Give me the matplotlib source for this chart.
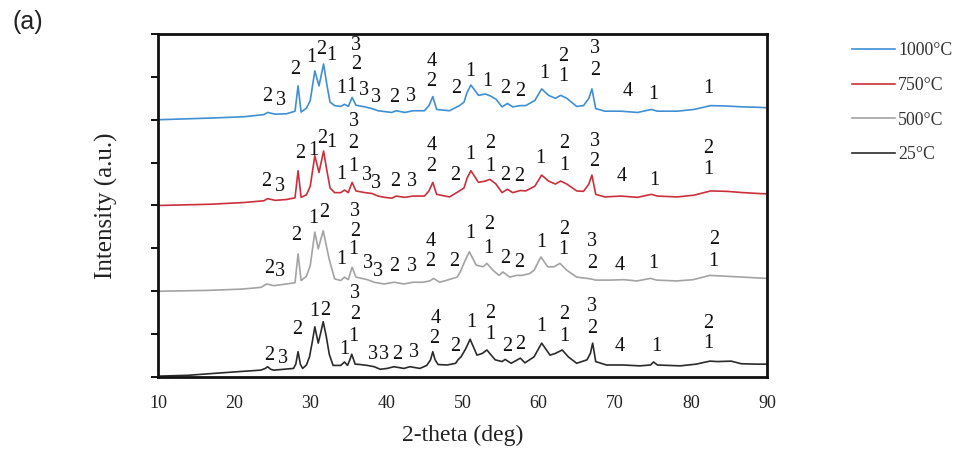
import matplotlib
matplotlib.use("Agg")
import matplotlib.pyplot as plt

# ---------------- data ----------------
series_names = ["1000°C", "750°C", "500°C", "25°C"]
offsets = [6, 4, 2, 0]
colors = ["#3f8fd2", "#cc2f3c", "#a3a3a3", "#2b2b2b"]

tt_black = [10, 14, 17.8, 21, 23.5, 24.1, 24.4, 24.8, 25.2, 26.5, 27.8, 28.1, 28.4, 28.7, 29.0, 29.5,
            29.9, 30.3, 30.6, 31.05, 31.4, 31.7, 32.1, 32.5, 33.0, 34.0, 34.5, 34.9, 35.2, 35.45, 35.9,
            36.6, 37.5, 38.4, 39.2, 40.1, 41.0, 42.3, 43.1, 44.4, 45.3, 45.8, 46.1, 46.4, 46.8, 48.0,
            49.1, 49.4, 49.8, 50.4, 51.0, 51.9, 52.6, 53.2, 54.3, 55.2, 55.6, 56.4, 57.6, 58.2, 59.4,
            60.4, 61.5, 62.2, 63.1, 63.9, 65.0, 66.35, 66.8, 67.1, 67.5, 68.9, 71.1, 73.3, 74.7, 75.1,
            75.6, 78.6, 80.7, 82.5, 83.5, 85.3, 86.6, 88.5, 90]
int_black = [0.02, 0.04, 0.09, 0.13, 0.16, 0.2, 0.24, 0.18, 0.16, 0.18, 0.2, 0.3, 0.59, 0.3, 0.2, 0.28,
             0.47, 0.85, 1.17, 0.79, 1.05, 1.29, 0.95, 0.53, 0.27, 0.27, 0.35, 0.27, 0.4, 0.53, 0.3,
             0.29, 0.27, 0.24, 0.18, 0.2, 0.24, 0.2, 0.24, 0.2, 0.27, 0.4, 0.59, 0.4, 0.29, 0.28,
             0.32, 0.4, 0.47, 0.65, 0.88, 0.51, 0.55, 0.63, 0.4, 0.36, 0.41, 0.32, 0.44, 0.33, 0.47,
             0.79, 0.51, 0.55, 0.63, 0.47, 0.32, 0.4, 0.55, 0.79, 0.36, 0.28, 0.28, 0.26, 0.28, 0.35,
             0.28, 0.26, 0.3, 0.37, 0.36, 0.37, 0.31, 0.3, 0.3]

tt_gray = [10, 16.5, 21, 23.5, 24.3, 25.2, 26.9, 28.0, 28.4, 28.8, 29.5, 30.0, 30.6, 31.05, 31.7, 32.5,
           33.2, 34.0, 34.5, 35.0, 35.5, 36.0, 37.5, 38.4, 39.7, 41.0, 42.3, 43.5, 44.8, 45.7, 46.2,
           47.0, 48.0, 49.3, 49.7, 50.3, 50.9, 51.8, 52.7, 53.2, 54.0, 54.8, 55.3, 56.2, 57.1, 57.8,
           58.8, 59.4, 60.3, 61.2, 62.0, 62.8, 63.7, 65.0, 66.8, 67.5, 69.4, 71.2, 72.9, 74.7, 75.5,
           78.1, 80.3, 82.5, 84.6, 86.8, 88.8, 90]
int_gray = [0.0, 0.02, 0.05, 0.09, 0.17, 0.13, 0.17, 0.2, 0.87, 0.25, 0.35, 0.6, 1.38, 0.99, 1.41, 0.74,
            0.29, 0.25, 0.33, 0.27, 0.56, 0.33, 0.27, 0.21, 0.17, 0.21, 0.17, 0.21, 0.21, 0.24, 0.3,
            0.21, 0.26, 0.33, 0.45, 0.7, 0.92, 0.61, 0.57, 0.65, 0.49, 0.37, 0.45, 0.33, 0.37, 0.37,
            0.41, 0.49, 0.8, 0.57, 0.57, 0.65, 0.49, 0.33, 0.29, 0.26, 0.26, 0.27, 0.24, 0.3, 0.26,
            0.24, 0.27, 0.37, 0.35, 0.33, 0.31, 0.3]

tt_red = [10, 17, 21.3, 23.9, 24.4, 25.4, 26.9, 28.0, 28.4, 28.8, 29.5, 30.0, 30.6, 31.15, 31.75, 32.2,
          32.6, 33.2, 34.0, 34.5, 35.0, 35.5, 36.0, 37.2, 38.1, 38.9, 39.8, 40.7, 41.3, 42.4, 43.5,
          45.0, 45.6, 46.1, 46.6, 48.3, 49.6, 50.2, 50.6, 51.1, 52.1, 53.0, 53.6, 54.4, 55.2, 55.9,
          56.6, 57.6, 58.3, 59.5, 60.4, 61.3, 62.2, 62.9, 63.7, 65.0, 65.9, 66.6, 67.0, 67.5, 68.7,
          70.8, 73.0, 74.8, 75.6, 78.2, 80.4, 82.6, 84.7, 86.9, 88.9, 90]
int_red = [0.0, 0.03, 0.07, 0.11, 0.16, 0.12, 0.14, 0.18, 0.81, 0.19, 0.25, 0.45, 1.16, 0.77, 1.27, 0.8,
           0.41, 0.3, 0.3, 0.36, 0.3, 0.54, 0.34, 0.3, 0.28, 0.22, 0.19, 0.17, 0.22, 0.19, 0.22,
           0.22, 0.34, 0.54, 0.26, 0.2, 0.34, 0.41, 0.64, 0.81, 0.54, 0.57, 0.61, 0.5, 0.3, 0.38,
           0.3, 0.35, 0.34, 0.45, 0.71, 0.57, 0.5, 0.57, 0.5, 0.34, 0.33, 0.5, 0.71, 0.26, 0.2,
           0.22, 0.19, 0.26, 0.22, 0.2, 0.24, 0.34, 0.33, 0.3, 0.28, 0.27]

tt_blue = tt_red
int_blue = [0.0, 0.04, 0.07, 0.12, 0.17, 0.13, 0.14, 0.2, 0.79, 0.18, 0.27, 0.45, 1.14, 0.79, 1.3, 0.8,
            0.41, 0.33, 0.31, 0.36, 0.31, 0.52, 0.34, 0.3, 0.26, 0.21, 0.19, 0.17, 0.21, 0.17, 0.21,
            0.21, 0.33, 0.54, 0.24, 0.21, 0.33, 0.41, 0.64, 0.81, 0.57, 0.6, 0.56, 0.48, 0.3, 0.38,
            0.3, 0.33, 0.33, 0.45, 0.72, 0.57, 0.5, 0.57, 0.5, 0.31, 0.33, 0.5, 0.72, 0.26, 0.2,
            0.2, 0.17, 0.24, 0.2, 0.2, 0.24, 0.33, 0.32, 0.3, 0.29, 0.28]

# phase labels (2-theta, height above the curve's offset, text)
lab_x_blue = [24.4, 26.2, 28.0, 30.2, 31.5, 32.8, 34.1, 36.0, 36.0, 35.4, 37.1, 38.6, 41.0, 43.2, 45.9, 45.9,
              49.2, 51.0, 53.2, 55.6, 57.6, 60.7, 63.2, 63.2, 67.4, 67.4, 71.7, 75.1, 82.3]
lab_y_blue = [0.54, 0.46, 1.18, 1.46, 1.64, 1.51, 0.73, 1.74, 1.28, 0.77, 0.69, 0.52, 0.52, 0.54, 1.35, 0.89,
              0.72, 1.12, 0.89, 0.73, 0.65, 1.08, 1.47, 1.00, 1.67, 1.16, 0.65, 0.58, 0.73]
lab_t_blue = ["2", "3", "2", "1", "2", "1", "1", "3", "2", "1", "3", "3", "2", "3", "4", "2",
              "2", "1", "1", "2", "2", "1", "2", "1", "3", "2", "4", "1", "1"]

lab_x_red = [24.2, 26.0, 28.7, 30.4, 31.6, 32.8, 34.1, 35.7, 35.7, 35.6, 37.5, 38.6, 41.1, 43.4, 45.9, 45.9,
             49.1, 51.0, 53.7, 53.7, 55.6, 57.4, 60.2, 63.4, 63.4, 67.4, 67.3, 70.9, 75.2, 82.3, 82.3]
lab_y_red = [0.56, 0.44, 1.22, 1.29, 1.57, 1.46, 0.73, 1.95, 1.45, 0.90, 0.71, 0.52, 0.56, 0.56, 1.41, 0.90,
             0.71, 1.18, 1.45, 0.90, 0.71, 0.67, 1.10, 1.45, 0.94, 1.49, 1.02, 0.67, 0.59, 1.33, 0.83]
lab_t_red = ["2", "3", "2", "1", "2", "1", "1", "3", "2", "1", "3", "3", "2", "3", "4", "2",
             "2", "1", "2", "1", "2", "2", "1", "2", "1", "3", "2", "4", "1", "2", "1"]

lab_x_gray = [24.6, 26.0, 28.2, 30.4, 31.8, 34.1, 35.9, 35.9, 35.7, 37.6, 38.9, 41.0, 43.4, 45.8, 45.8,
              48.9, 51.0, 53.5, 53.4, 55.6, 57.4, 60.4, 63.3, 63.3, 67.0, 67.0, 70.7, 75.0, 83.0, 83.0]
lab_y_gray = [0.54, 0.46, 1.29, 1.70, 1.83, 0.75, 1.86, 1.39, 0.98, 0.64, 0.46, 0.57, 0.57, 1.16, 0.69,
              0.69, 1.35, 1.55, 1.00, 0.77, 0.67, 1.13, 1.44, 0.98, 1.16, 0.65, 0.61, 0.65, 1.20, 0.69]
lab_t_gray = ["2", "3", "2", "1", "2", "1", "3", "2", "1", "3", "3", "2", "3", "4", "2",
              "2", "1", "2", "1", "2", "2", "1", "2", "1", "3", "2", "4", "1", "2", "1"]

lab_x_black = [24.6, 26.4, 28.3, 30.5, 32.0, 34.5, 35.9, 35.9, 35.7, 38.2, 39.7, 41.4, 43.6, 46.5, 46.3,
               49.1, 51.1, 53.7, 53.6, 55.9, 57.6, 60.3, 63.4, 63.4, 67.0, 67.0, 70.6, 75.4, 82.3, 82.3]
lab_y_black = [0.51, 0.44, 1.10, 1.52, 1.56, 0.63, 1.95, 1.45, 0.94, 0.53, 0.53, 0.53, 0.57, 1.37, 0.90,
               0.71, 1.27, 1.49, 0.98, 0.71, 0.75, 1.17, 1.45, 0.94, 1.64, 1.14, 0.71, 0.71, 1.25, 0.79]
lab_t_black = ["2", "3", "2", "1", "2", "1", "3", "2", "1", "3", "3", "2", "3", "4", "2",
               "2", "1", "2", "1", "2", "2", "1", "2", "1", "3", "2", "4", "1", "2", "1"]

x_ticks = [10, 20, 30, 40, 50, 60, 70, 80, 90]
y_ticks = [0, 1, 2, 3, 4, 5, 6, 7, 8]

# ---------------- plot ----------------
serif = ["Liberation Serif", "DejaVu Serif"]
fig = plt.figure(figsize=(9.65, 4.5), dpi=100)
ax = fig.add_axes([158 / 965, 1 - 377 / 450, (767 - 158) / 965, (377 - 34) / 450])

curves = [(tt_blue, int_blue), (tt_red, int_red), (tt_gray, int_gray), (tt_black, int_black)]
labels = [(lab_x_blue, lab_y_blue, lab_t_blue), (lab_x_red, lab_y_red, lab_t_red),
          (lab_x_gray, lab_y_gray, lab_t_gray), (lab_x_black, lab_y_black, lab_t_black)]

handles = []
for (tt, ii), off, col, name in zip(curves, offsets, colors, series_names):
    h, = ax.plot(tt, [v + off for v in ii], color=col, lw=1.2, label=name)
    handles.append(h)

for (lx, ly, lt), off in zip(labels, offsets):
    for x, y, t in zip(lx, ly, lt):
        ax.text(x, y + off, t, ha="center", va="center", fontsize=14.5,
                family=serif, color="#111111")

ax.set_xlim(10, 90)
ax.set_ylim(0, 8)
ax.set_xticks(x_ticks)
ax.set_xticklabels([str(v) for v in x_ticks], family=serif, fontsize=13, color="#222222")
ax.set_yticks(y_ticks)
ax.set_yticklabels([])
ax.tick_params(axis="x", length=0, pad=13)
ax.tick_params(axis="y", direction="out", length=5, width=1.4, color="#111111")
for s in ax.spines.values():
    s.set_linewidth(2.0)
    s.set_color("#111111")

ax.set_xlabel("2-theta (deg)", family=serif, fontsize=17, labelpad=9, color="#222222")
ax.set_ylabel("Intensity (a.u.)", family=serif, fontsize=18, labelpad=20, color="#222222")

fig.text(12 / 965, 1 - 10 / 450, "(a)", ha="left", va="top", fontsize=18,
         family=["Liberation Sans", "DejaVu Sans"], color="#222222")

leg = fig.legend(handles=handles, loc="upper left", bbox_to_anchor=(852 / 965, 1 - 42 / 450),
                 frameon=False, handlelength=2.4, handletextpad=0.2, labelspacing=1.0,
                 borderpad=0, borderaxespad=0, prop={"family": serif, "size": 12.8})
for t in leg.get_texts():
    t.set_color("#333333")

fig.savefig("out.png", dpi=100)
